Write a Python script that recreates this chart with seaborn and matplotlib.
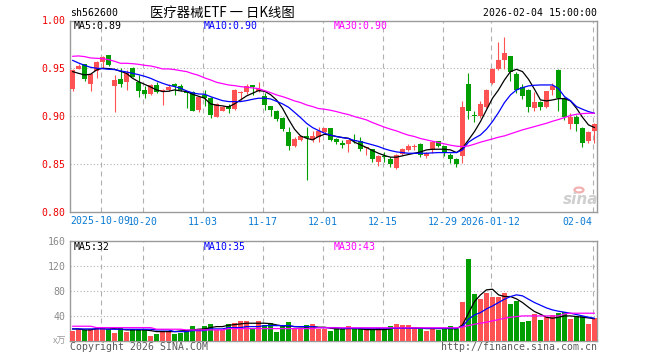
import numpy as np
import pandas as pd
import matplotlib
matplotlib.use("Agg")
import matplotlib.pyplot as plt
from matplotlib.patches import Circle
import seaborn as sns

sns.set_theme(style="white")
plt.rcParams['font.family'] = ['DejaVu Sans Mono', 'Noto Sans CJK SC']
plt.rcParams['axes.unicode_minus'] = False

# ---------------- data ----------------
symbol = "sh562600"
chart_title = "医疗器械ETF 一 日K线图"
timestamp = "2026-02-04 15:00:00"
first_day = "2025-09-24"
last_day = "2026-02-04"
holidays = ["2025-10-01", "2025-10-02", "2025-10-03", "2025-10-06",
            "2025-10-07", "2025-10-08", "2026-01-01", "2026-01-02"]

open_p = [0.928, 0.949, 0.954, 0.933, 0.947, 0.957, 0.964, 0.931, 0.939, 0.936,
          0.950, 0.936, 0.927, 0.923, 0.932, 0.926, 0.927, 0.934, 0.931, 0.926,
          0.925, 0.906, 0.922, 0.919, 0.899, 0.905, 0.910, 0.907, 0.924, 0.925,
          0.932, 0.926, 0.921, 0.910, 0.905, 0.898, 0.883, 0.869, 0.875, 0.879,
          0.875, 0.878, 0.883, 0.887, 0.876, 0.872, 0.871, 0.875, 0.874, 0.866,
          0.865, 0.852, 0.858, 0.855, 0.846, 0.860, 0.864, 0.8677, 0.871, 0.858,
          0.864, 0.874, 0.869, 0.859, 0.855, 0.858, 0.934, 0.901, 0.900, 0.909,
          0.935, 0.949, 0.959, 0.963, 0.944, 0.930, 0.927, 0.908, 0.915, 0.909,
          0.927, 0.948, 0.919, 0.892, 0.899, 0.887, 0.874, 0.884]
high_p = [0.949, 0.954, 0.954, 0.945, 0.958, 0.963, 0.964, 0.943, 0.950, 0.948,
          0.951, 0.943, 0.931, 0.933, 0.936, 0.928, 0.934, 0.935, 0.933, 0.926,
          0.926, 0.921, 0.927, 0.920, 0.914, 0.910, 0.913, 0.928, 0.926, 0.934,
          0.932, 0.936, 0.924, 0.910, 0.906, 0.899, 0.889, 0.878, 0.879, 0.888,
          0.884, 0.888, 0.887, 0.887, 0.877, 0.875, 0.875, 0.881, 0.878, 0.868,
          0.865, 0.859, 0.862, 0.857, 0.860, 0.867, 0.871, 0.871, 0.872, 0.862,
          0.874, 0.874, 0.869, 0.861, 0.856, 0.916, 0.945, 0.905, 0.916, 0.928,
          0.950, 0.977, 0.983, 0.963, 0.946, 0.933, 0.928, 0.925, 0.916, 0.926,
          0.935, 0.949, 0.920, 0.903, 0.901, 0.889, 0.884, 0.893]
low_p = [0.926, 0.949, 0.937, 0.926, 0.940, 0.950, 0.952, 0.904, 0.930, 0.927,
         0.941, 0.920, 0.919, 0.922, 0.924, 0.912, 0.926, 0.922, 0.926, 0.908,
         0.905, 0.904, 0.910, 0.898, 0.899, 0.905, 0.903, 0.906, 0.917, 0.923,
         0.922, 0.925, 0.906, 0.900, 0.895, 0.884, 0.864, 0.868, 0.874, 0.833,
         0.873, 0.873, 0.882, 0.874, 0.871, 0.867, 0.862, 0.872, 0.863, 0.859,
         0.852, 0.848, 0.852, 0.847, 0.845, 0.859, 0.863, 0.864, 0.857, 0.856,
         0.861, 0.868, 0.858, 0.851, 0.847, 0.851, 0.897, 0.894, 0.898, 0.908,
         0.933, 0.948, 0.949, 0.937, 0.924, 0.918, 0.904, 0.905, 0.906, 0.908,
         0.922, 0.905, 0.896, 0.886, 0.884, 0.868, 0.872, 0.872]
close_p = [0.948, 0.952, 0.939, 0.944, 0.957, 0.962, 0.953, 0.938, 0.934, 0.945,
           0.941, 0.926, 0.923, 0.932, 0.925, 0.927, 0.930, 0.931, 0.927, 0.924,
           0.905, 0.920, 0.919, 0.901, 0.913, 0.909, 0.907, 0.927, 0.925, 0.931,
           0.930, 0.928, 0.911, 0.906, 0.897, 0.886, 0.869, 0.876, 0.879, 0.877,
           0.879, 0.884, 0.887, 0.875, 0.873, 0.870, 0.875, 0.874, 0.865, 0.868,
           0.855, 0.858, 0.857, 0.850, 0.859, 0.865, 0.869, 0.8684, 0.859, 0.861,
           0.873, 0.869, 0.861, 0.855, 0.850, 0.909, 0.905, 0.900, 0.913, 0.927,
           0.949, 0.959, 0.966, 0.946, 0.927, 0.921, 0.909, 0.915, 0.909, 0.926,
           0.931, 0.919, 0.899, 0.899, 0.892, 0.872, 0.883, 0.892]

ma5 = [0.9465, 0.9447, 0.9430, 0.9437, 0.9482, 0.9500, 0.9496, 0.9489, 0.9468, 0.9447,
       0.9395, 0.9360, 0.9332, 0.9304, 0.9273, 0.9256, 0.9259, 0.9273, 0.9263, 0.9256,
       0.9228, 0.9207, 0.9186, 0.9127, 0.9113, 0.9106, 0.9095, 0.9127, 0.9168, 0.9210,
       0.9238, 0.9266, 0.9259, 0.9224, 0.9168, 0.9081, 0.8966, 0.8862, 0.8792, 0.8767,
       0.8750, 0.8785, 0.8809, 0.8799, 0.8785, 0.8774, 0.8767, 0.8726, 0.8698, 0.8670,
       0.8638, 0.8610, 0.8586, 0.8569, 0.8569, 0.8583, 0.8597, 0.8610, 0.8624, 0.8645,
       0.8652, 0.8652, 0.8652, 0.8645, 0.8617, 0.8663, 0.8750, 0.8837, 0.8942, 0.9064,
       0.9186, 0.9273, 0.9378, 0.9465, 0.9489, 0.9465, 0.9385, 0.9280, 0.9168, 0.9158,
       0.9168, 0.9182, 0.9182, 0.9158, 0.9081, 0.8987, 0.8907, 0.8879]
ma10 = [0.9583, 0.9555, 0.9531, 0.9510, 0.9500, 0.9496, 0.9489, 0.9486, 0.9472, 0.9461,
        0.9447, 0.9433, 0.9416, 0.9395, 0.9367, 0.9343, 0.9322, 0.9308, 0.9291, 0.9263,
        0.9242, 0.9231, 0.9228, 0.9203, 0.9182, 0.9161, 0.9151, 0.9151, 0.9151, 0.9161,
        0.9175, 0.9186, 0.9186, 0.9179, 0.9154, 0.9127, 0.9092, 0.9039, 0.8984, 0.8924,
        0.8879, 0.8848, 0.8820, 0.8799, 0.8785, 0.8774, 0.8764, 0.8743, 0.8732, 0.8715,
        0.8698, 0.8680, 0.8656, 0.8638, 0.8624, 0.8617, 0.8610, 0.8610, 0.8610, 0.8610,
        0.8614, 0.8617, 0.8617, 0.8617, 0.8617, 0.8645, 0.8726, 0.8767, 0.8802, 0.8862,
        0.8942, 0.9036, 0.9141, 0.9221, 0.9273, 0.9297, 0.9315, 0.9322, 0.9325, 0.9325,
        0.9325, 0.9287, 0.9203, 0.9161, 0.9099, 0.9071, 0.9046, 0.9029]
ma30 = [0.9625, 0.9629, 0.9622, 0.9608, 0.9604, 0.9601, 0.9590, 0.9573, 0.9552, 0.9552,
        0.9548, 0.9541, 0.9531, 0.9524, 0.9510, 0.9493, 0.9493, 0.9486, 0.9475, 0.9465,
        0.9444, 0.9426, 0.9399, 0.9378, 0.9353, 0.9339, 0.9325, 0.9318, 0.9308, 0.9301,
        0.9294, 0.9287, 0.9266, 0.9245, 0.9221, 0.9203, 0.9182, 0.9158, 0.9141, 0.9116,
        0.9099, 0.9078, 0.9071, 0.9060, 0.9046, 0.9029, 0.9015, 0.8994, 0.8977, 0.8959,
        0.8931, 0.8907, 0.8883, 0.8862, 0.8844, 0.8820, 0.8799, 0.8785, 0.8764, 0.8750,
        0.8736, 0.8722, 0.8708, 0.8694, 0.8684, 0.8680, 0.8687, 0.8705, 0.8726, 0.8743,
        0.8760, 0.8778, 0.8792, 0.8813, 0.8834, 0.8855, 0.8872, 0.8889, 0.8907, 0.8924,
        0.8945, 0.8963, 0.8984, 0.9005, 0.9018, 0.9025, 0.9029, 0.9029]

volume = [16.0, 18.7, 17.6, 18.7, 18.2, 20.8, 19.2, 11.7, 21.4, 14.4,
          18.7, 17.1, 17.1, 7.5, 10.7, 14.4, 14.4, 11.2, 11.7, 17.1,
          23.5, 18.2, 23.5, 26.2, 17.1, 17.1, 26.2, 27.8, 31.5, 31.5,
          18.2, 31.5, 25.1, 27.8, 14.4, 23.5, 29.9, 18.7, 18.7, 24.6,
          26.2, 18.2, 18.2, 15.5, 19.8, 18.2, 23.5, 18.2, 19.8, 17.1,
          18.7, 20.8, 18.2, 23.5, 26.7, 24.6, 24.6, 22.4, 18.7, 15.5,
          20.8, 17.1, 19.2, 23.5, 18.2, 62.5, 130.8, 74.8, 66.2, 76.9,
          70.5, 70.5, 76.9, 58.7, 63.5, 30.4, 32.0, 42.7, 33.1, 38.4,
          41.1, 43.8, 46.5, 34.2, 39.5, 39.5, 26.7, 35.8]
vol_ma5 = [18.7, 18.7, 17.1, 17.1, 19.2, 20.3, 20.3, 19.2, 18.2, 17.1,
           17.1, 17.1, 17.1, 16.0, 14.4, 14.4, 14.4, 14.4, 15.5, 16.0,
           17.1, 18.2, 18.7, 20.8, 22.4, 22.4, 24.6, 25.6, 26.7, 27.8,
           27.8, 27.8, 27.8, 27.2, 25.1, 23.5, 23.5, 22.4, 21.9, 21.9,
           22.4, 21.4, 21.4, 19.8, 18.7, 18.7, 19.2, 19.2, 18.7, 17.6,
           17.6, 17.6, 17.6, 18.7, 20.8, 20.8, 20.8, 20.3, 19.8, 19.2,
           19.2, 19.2, 19.2, 19.2, 18.7, 25.1, 43.8, 62.5, 73.2, 81.2,
           82.2, 73.2, 70.5, 70.5, 66.8, 60.9, 53.4, 46.5, 42.2, 37.4,
           35.8, 37.4, 39.5, 39.5, 38.4, 37.4, 36.3, 35.0]
vol_ma10 = [18.7, 18.7, 18.7, 18.7, 18.7, 18.7, 18.2, 18.2, 18.2, 18.2,
            18.2, 18.2, 18.2, 18.2, 17.1, 17.1, 17.1, 14.4, 14.4, 14.4,
            16.0, 16.0, 16.0, 18.7, 18.7, 18.7, 20.8, 20.8, 20.8, 22.4,
            22.4, 22.4, 24.0, 24.0, 24.0, 24.0, 24.0, 22.4, 22.4, 22.4,
            22.4, 20.8, 20.8, 20.8, 20.8, 19.8, 19.8, 19.8, 19.8, 19.8,
            19.8, 19.8, 19.8, 19.8, 19.8, 19.8, 19.8, 19.8, 19.8, 19.8,
            19.8, 19.8, 19.8, 19.8, 19.8, 22.4, 34.2, 41.1, 44.9, 50.7,
            55.5, 60.9, 66.2, 70.5, 73.2, 71.6, 66.2, 60.9, 56.6, 52.3,
            49.1, 47.0, 45.4, 43.8, 41.7, 39.5, 37.4, 35.8]
vol_ma30 = [23.0, 23.0, 23.0, 23.0, 20.8, 20.8, 20.8, 20.8, 20.8, 20.8,
            20.8, 20.8, 20.8, 20.8, 18.2, 18.2, 18.2, 18.2, 18.2, 17.1,
            17.1, 17.1, 17.1, 17.1, 17.1, 17.1, 19.2, 19.2, 19.2, 19.2,
            19.2, 19.2, 19.2, 19.2, 19.2, 19.2, 19.2, 19.2, 19.2, 19.2,
            19.2, 20.5, 20.5, 20.5, 20.5, 20.5, 20.5, 20.5, 20.5, 20.5,
            20.5, 20.5, 20.5, 20.5, 20.5, 20.5, 20.5, 20.5, 20.5, 20.5,
            20.5, 20.5, 20.5, 20.5, 20.5, 21.9, 24.0, 26.2, 27.8, 29.4,
            31.5, 33.6, 35.8, 37.4, 38.4, 39.5, 39.5, 39.5, 39.5, 39.5,
            39.5, 39.5, 42.7, 43.8, 43.8, 43.8, 43.8, 43.8]

tick_dates = ["2025-10-09", "2025-10-20", "2025-11-03", "2025-11-17", "2025-12-01",
              "2025-12-15", "2025-12-29", "2026-01-12", "2026-02-04"]
tick_labels = ["2025-10-09", "10-20", "11-03", "11-17", "12-01",
               "12-15", "12-29", "2026-01-12", "02-04"]
price_ticks = [0.80, 0.85, 0.90, 0.95, 1.00]
volume_ticks = [40, 80, 120, 160]
volume_unit = "x万"
price_ma_labels = ["MA5:0.89", "MA10:0.90", "MA30:0.90"]
volume_ma_labels = ["MA5:32", "MA10:35", "MA30:43"]
copyright_text = "Copyright 2026 SINA.COM"
source_text = "http://finance.sina.com.cn"
watermark = "sina"

# ---------------- style ----------------
RED = "#ff5353"
GREEN = "#009e00"
MA_COLORS = ["#000000", "#0000ff", "#ff00ff"]
GRID = "#b0b0b0"
SPINE = "#9a9a9a"
XLAB = "#0a7ad4"
FS = 7.1

trade_days = pd.bdate_range(first_day, last_day).difference(pd.to_datetime(holidays))
n = len(trade_days)
idx = np.arange(n)
df = pd.DataFrame({"x": idx, "open": open_p, "high": high_p, "low": low_p,
                   "close": close_p, "volume": volume})
df["dir"] = np.where(df["close"] >= df["open"], "up", "down")
cols = np.where(df["dir"] == "up", RED, GREEN)
tick_pos = np.array([trade_days.get_loc(pd.Timestamp(d)) for d in tick_dates]) - 0.3

W, H = 660, 360
fig = plt.figure(figsize=(W / 100, H / 100), dpi=100)


def rect(l, t, r, b):
    return [l / W, 1 - b / H, (r - l) / W, (b - t) / H]


def ftext(x, y, s, **kw):
    kw.setdefault("fontsize", FS)
    kw.setdefault("va", "center")
    return fig.text(x / W, 1 - y / H, s, **kw)


ax = fig.add_axes(rect(70, 20.5, 597, 211.5))
axv = fig.add_axes(rect(70, 240.6, 597, 340.6))

# ---- price panel ----
ax.vlines(df["x"], df["low"], df["high"], colors=cols, linewidth=0.8, zorder=2)
body_lo = np.minimum(df["open"], df["close"])
body_h = np.maximum((df["close"] - df["open"]).abs(), 0.0011)
ax.bar(df["x"], body_h, bottom=body_lo, width=0.8, color=cols, linewidth=0, zorder=3)
for vals, c in zip([ma5, ma10, ma30], MA_COLORS):
    sns.lineplot(x=idx, y=vals, ax=ax, color=c, linewidth=0.9, zorder=5, legend=False)

# ---- volume panel ----
sns.barplot(data=df, x="x", y="volume", hue="dir", palette={"up": RED, "down": GREEN},
            native_scale=True, width=0.8, dodge=False, legend=False, saturation=1,
            errorbar=None, linewidth=0, ax=axv, zorder=3)
for vals, c in zip([vol_ma5, vol_ma10, vol_ma30], MA_COLORS):
    sns.lineplot(x=idx, y=vals, ax=axv, color=c, linewidth=0.9, zorder=5, legend=False)

for a in (ax, axv):
    a.set_xlim(-0.42, n - 0.58)
    a.set_xlabel("")
    a.set_ylabel("")
    a.set_facecolor("white")
    for sp in a.spines.values():
        sp.set_visible(True)
        sp.set_color(SPINE)
        sp.set_linewidth(1.0)
    for p in tick_pos:
        a.axvline(p, color=GRID, linewidth=0.8, linestyle=(0, (4.5, 3.6)), zorder=1)
    a.tick_params(length=0)

ax.set_ylim(0.80, 1.00)
for t in price_ticks[1:-1]:
    ax.axhline(t, color=GRID, linewidth=0.8, linestyle=(0, (1, 2)), zorder=1)
ax.set_yticks(price_ticks, labels=[f"{t:.2f}" for t in price_ticks])
ax.tick_params(axis="y", labelcolor="#ee0000", labelsize=FS, pad=3)
ax.set_xticks(tick_pos, labels=[""] + tick_labels[1:])
ax.tick_params(axis="x", labelcolor=XLAB, labelsize=FS, pad=4)
ax.get_xticklabels()[-1].set_horizontalalignment("right")
ax.get_xticklabels()[-1].set_x(tick_pos[-1])

axv.set_ylim(0, 160)
for t in volume_ticks[:-1]:
    axv.axhline(t, color=GRID, linewidth=0.8, linestyle=(0, (1, 2)), zorder=1)
axv.set_yticks(volume_ticks, labels=[str(t) for t in volume_ticks])
axv.tick_params(axis="y", labelcolor="#8a8a8a", labelsize=FS, pad=3)
axv.set_xticks(tick_pos, labels=[""] * len(tick_pos))

# ---- texts ----
ftext(70, 221.5, tick_labels[0], color=XLAB, ha="left")
ftext(70, 13.5, symbol, color="black", ha="left")
ftext(222, 12.5, chart_title, color="black", ha="center", fontsize=9.6,
      family=["Noto Sans CJK SC", "DejaVu Sans"])
ftext(597, 13.5, timestamp, color="black", ha="right")
for s, x, c in zip(price_ma_labels, [74, 204, 334], MA_COLORS):
    ftext(x, 26, s, color=c, ha="left")
for s, x, c in zip(volume_ma_labels, [74, 204, 334], MA_COLORS):
    ftext(x, 246.5, s, color=c, ha="left")
ftext(66, 341.5, volume_unit, color="#9a9a9a", ha="right", fontsize=6.5,
      family=["Noto Sans CJK SC", "DejaVu Sans"])
ftext(70, 346.5, copyright_text, color="#5a5a5a", ha="left")
ftext(597, 346.5, source_text, color="#5a5a5a", ha="right")
ftext(581, 199, watermark, color="#cfcfcf", ha="center", fontsize=11,
      style="italic", weight="bold", family=["DejaVu Sans"])
fig.patches.append(Circle((579 / W, 1 - 190 / H), 4.5 / W, transform=fig.transFigure,
                          fill=False, edgecolor="#f2b0b0", linewidth=1.6))

fig.savefig("out.png", dpi=100)
